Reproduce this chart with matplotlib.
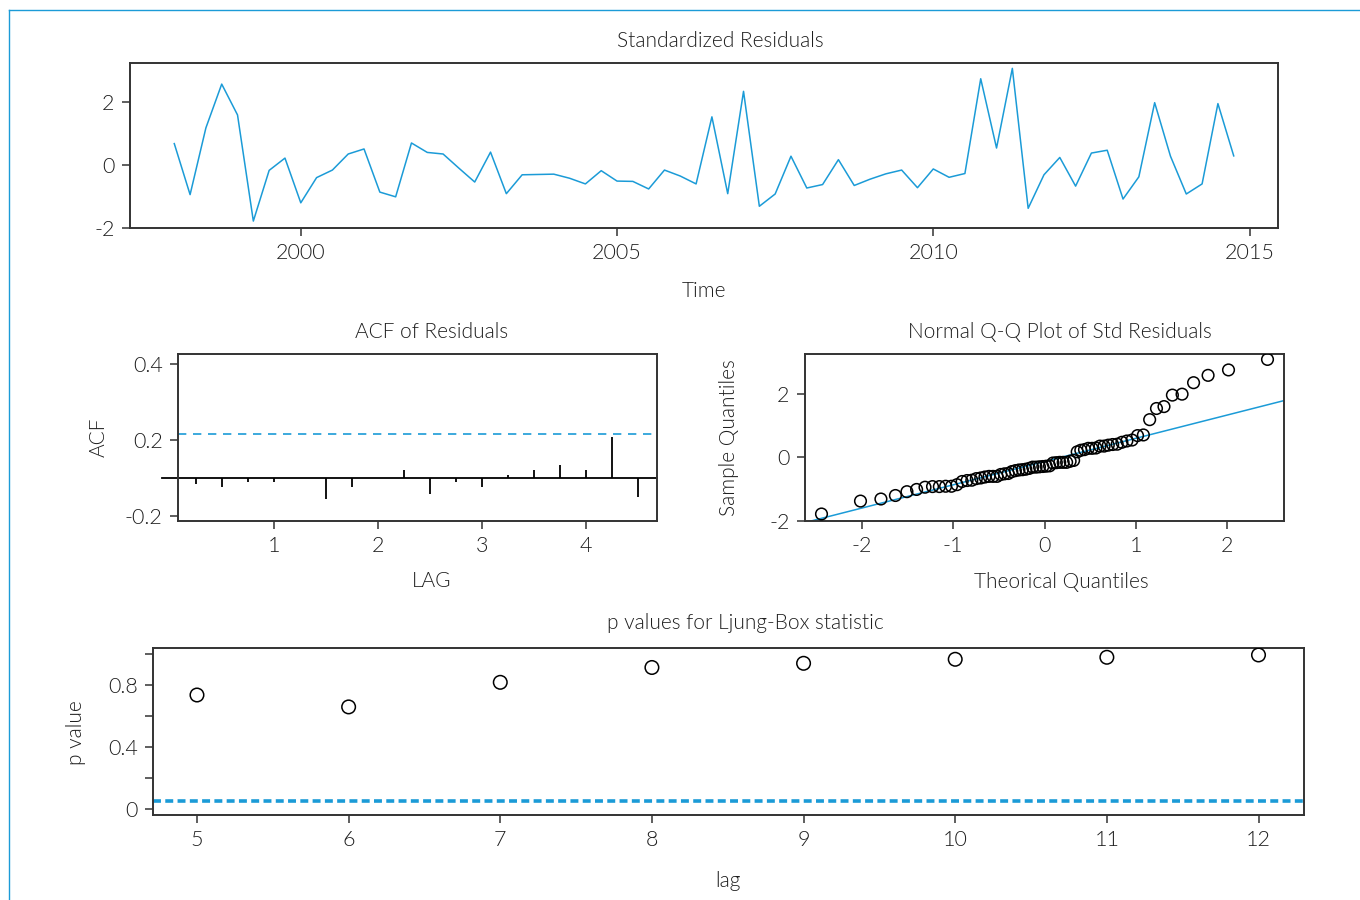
import matplotlib
matplotlib.use('Agg')
import matplotlib.pyplot as plt
import matplotlib.transforms as mtransforms
from matplotlib.lines import Line2D
import numpy as np
from statistics import NormalDist

# standardized residuals of the fitted model, quarterly from 1998 Q1 to 2014 Q4
resid = [0.68, -0.94, 1.18, 2.57, 1.59, -1.78, -0.17, 0.22,
         -1.20, -0.40, -0.16, 0.35, 0.51, -0.86, -1.01, 0.70,
         0.40, 0.35, -0.10, -0.54, 0.41, -0.91, -0.31, -0.30,
         -0.29, -0.42, -0.60, -0.18, -0.51, -0.52, -0.76, -0.16,
         -0.35, -0.60, 1.53, -0.91, 2.34, -1.31, -0.92, 0.28,
         -0.73, -0.62, 0.17, -0.65, -0.45, -0.28, -0.16, -0.72,
         -0.125, -0.39, -0.27, 2.74, 0.54, 3.07, -1.375, -0.31,
         0.24, -0.67, 0.38, 0.47, -1.08, -0.375, 1.98, 0.28,
         -0.92, -0.60, 1.95, 0.29]
start_year = 1998
freq = 4

# residual autocorrelations (lag in years)
acf_lag = [0.25, 0.5, 0.75, 1.0, 1.25, 1.5, 1.75, 2.0, 2.25,
           2.5, 2.75, 3.0, 3.25, 3.5, 3.75, 4.0, 4.25, 4.5]
acf_val = [-0.028, -0.044, -0.018, -0.018, 0.0, -0.107, -0.044, 0.002, 0.046,
           -0.081, -0.019, -0.044, 0.019, 0.044, 0.072, 0.046, 0.217, -0.097]
acf_bound = 0.235

# Ljung-Box p values
lb_lag = [5, 6, 7, 8, 9, 10, 11, 12]
lb_p = [0.736, 0.659, 0.818, 0.914, 0.941, 0.967, 0.980, 0.995]
lb_level = 0.05

W, H = 1360, 900
blue = '#1b9bd7'
dark = '#333333'
ink = '#1e1e1e'

plt.rcParams['font.family'] = ['Lato', 'DejaVu Sans']
plt.rcParams['font.weight'] = 300
plt.rcParams['axes.unicode_minus'] = False

fig = plt.figure(figsize=(W / 100, H / 100), dpi=100)


def add_box(l, t, r, b):
    ax = fig.add_axes([l / W, 1 - b / H, (r - l) / W, (b - t) / H])
    for s in ax.spines.values():
        s.set_color(dark)
        s.set_linewidth(1.4)
    ax.tick_params(direction='out', length=6, width=1.1, color=dark,
                   labelcolor=ink, labelsize=15.5, pad=5)
    return ax


def label(x, y, s, rot=0, **kw):
    fig.text(x / W, 1 - y / H, s, ha='center', va='center', rotation=rot,
             fontsize=15, color=ink, **kw)


# time plot
t = start_year + np.arange(len(resid)) / freq
ax1 = add_box(130, 63, 1278, 228)
ax1.plot(t, resid, color=blue, lw=1.1)
ax1.set_xlim(1997.3, 2015.45)
ax1.set_ylim(-1.97, 3.24)
ax1.set_xticks([2000, 2005, 2010, 2015])
ax1.set_yticks([-2, 0, 2])
label(720, 41, 'Standardized Residuals')
label(704, 291, 'Time')

# acf of residuals
ax2 = add_box(178, 354, 657, 521)
ax2.vlines(acf_lag, 0, acf_val, color='black', lw=1.3)
tr = mtransforms.blended_transform_factory(ax2.transAxes, ax2.transData)
ax2.plot([-0.034, 1], [0, 0], color='black', lw=1.3, transform=tr, clip_on=False)
ax2.axhline(acf_bound, color=blue, lw=1.2, ls=(0, (5, 4)))
ax2.set_xlim(0.077, 4.68)
ax2.set_ylim(-0.225, 0.655)
ax2.set_xticks([1, 2, 3, 4])
ax2.set_yticks([-0.2, 0.2, 0.6])
ax2.set_yticklabels(['-0.2', '0.2', '0.4'])
label(432, 332, 'ACF of Residuals')
label(99, 437, 'ACF', rot=90)
label(432, 581, 'LAG')

# normal qq plot
n = len(resid)
sample = np.sort(resid)
theo = np.array([NormalDist().inv_cdf((i + 0.5) / n) for i in range(n)])
q_y = np.quantile(resid, [0.25, 0.75])
q_x = np.array([NormalDist().inv_cdf(0.25), NormalDist().inv_cdf(0.75)])
slope = (q_y[1] - q_y[0]) / (q_x[1] - q_x[0])
icpt = q_y[0] - slope * q_x[0]

ax3 = add_box(805, 354, 1284, 521)
ax3.scatter(theo, sample, s=70, facecolors='none', edgecolors='black', lw=1.1, zorder=3)
xx = np.array([-3, 3])
ax3.plot(xx, icpt + slope * xx, color=blue, lw=1.1)
ax3.set_xlim(-2.62, 2.62)
ax3.set_ylim(-1.97, 3.24)
ax3.set_xticks([-2, -1, 0, 1, 2])
ax3.set_yticks([-2, 0, 2])
label(1060, 332, 'Normal Q-Q Plot of Std Residuals')
label(729, 438, 'Sample Quantiles', rot=90)
label(1061, 582, 'Theorical Quantiles')

# ljung-box p values
ax4 = add_box(153, 648, 1304, 815)
ax4.scatter(lb_lag, lb_p, s=95, facecolors='none', edgecolors='black', lw=1.1, zorder=3)
ax4.axhline(lb_level, color=blue, lw=2.6, ls=(0, (2.2, 1.2)))
ax4.set_xlim(4.71, 12.30)
ax4.set_ylim(-0.04, 1.04)
ax4.set_xticks(lb_lag)
ax4.set_yticks([0, 0.2, 0.4, 0.6, 0.8, 1.0])
ax4.set_yticklabels(['0', '', '0.4', '', '0.8', ''])
label(745, 623, 'p values for Ljung-Box statistic')
label(76, 733, 'p value', rot=90)
label(728, 881, 'lag')

# thin frame at top and left
fig.add_artist(Line2D([9 / W, 9 / W], [0, 1 - 10 / H], color=blue, lw=1.0))
fig.add_artist(Line2D([9 / W, 1], [1 - 10 / H, 1 - 10 / H], color=blue, lw=1.0))

fig.savefig('out.png', dpi=100)
